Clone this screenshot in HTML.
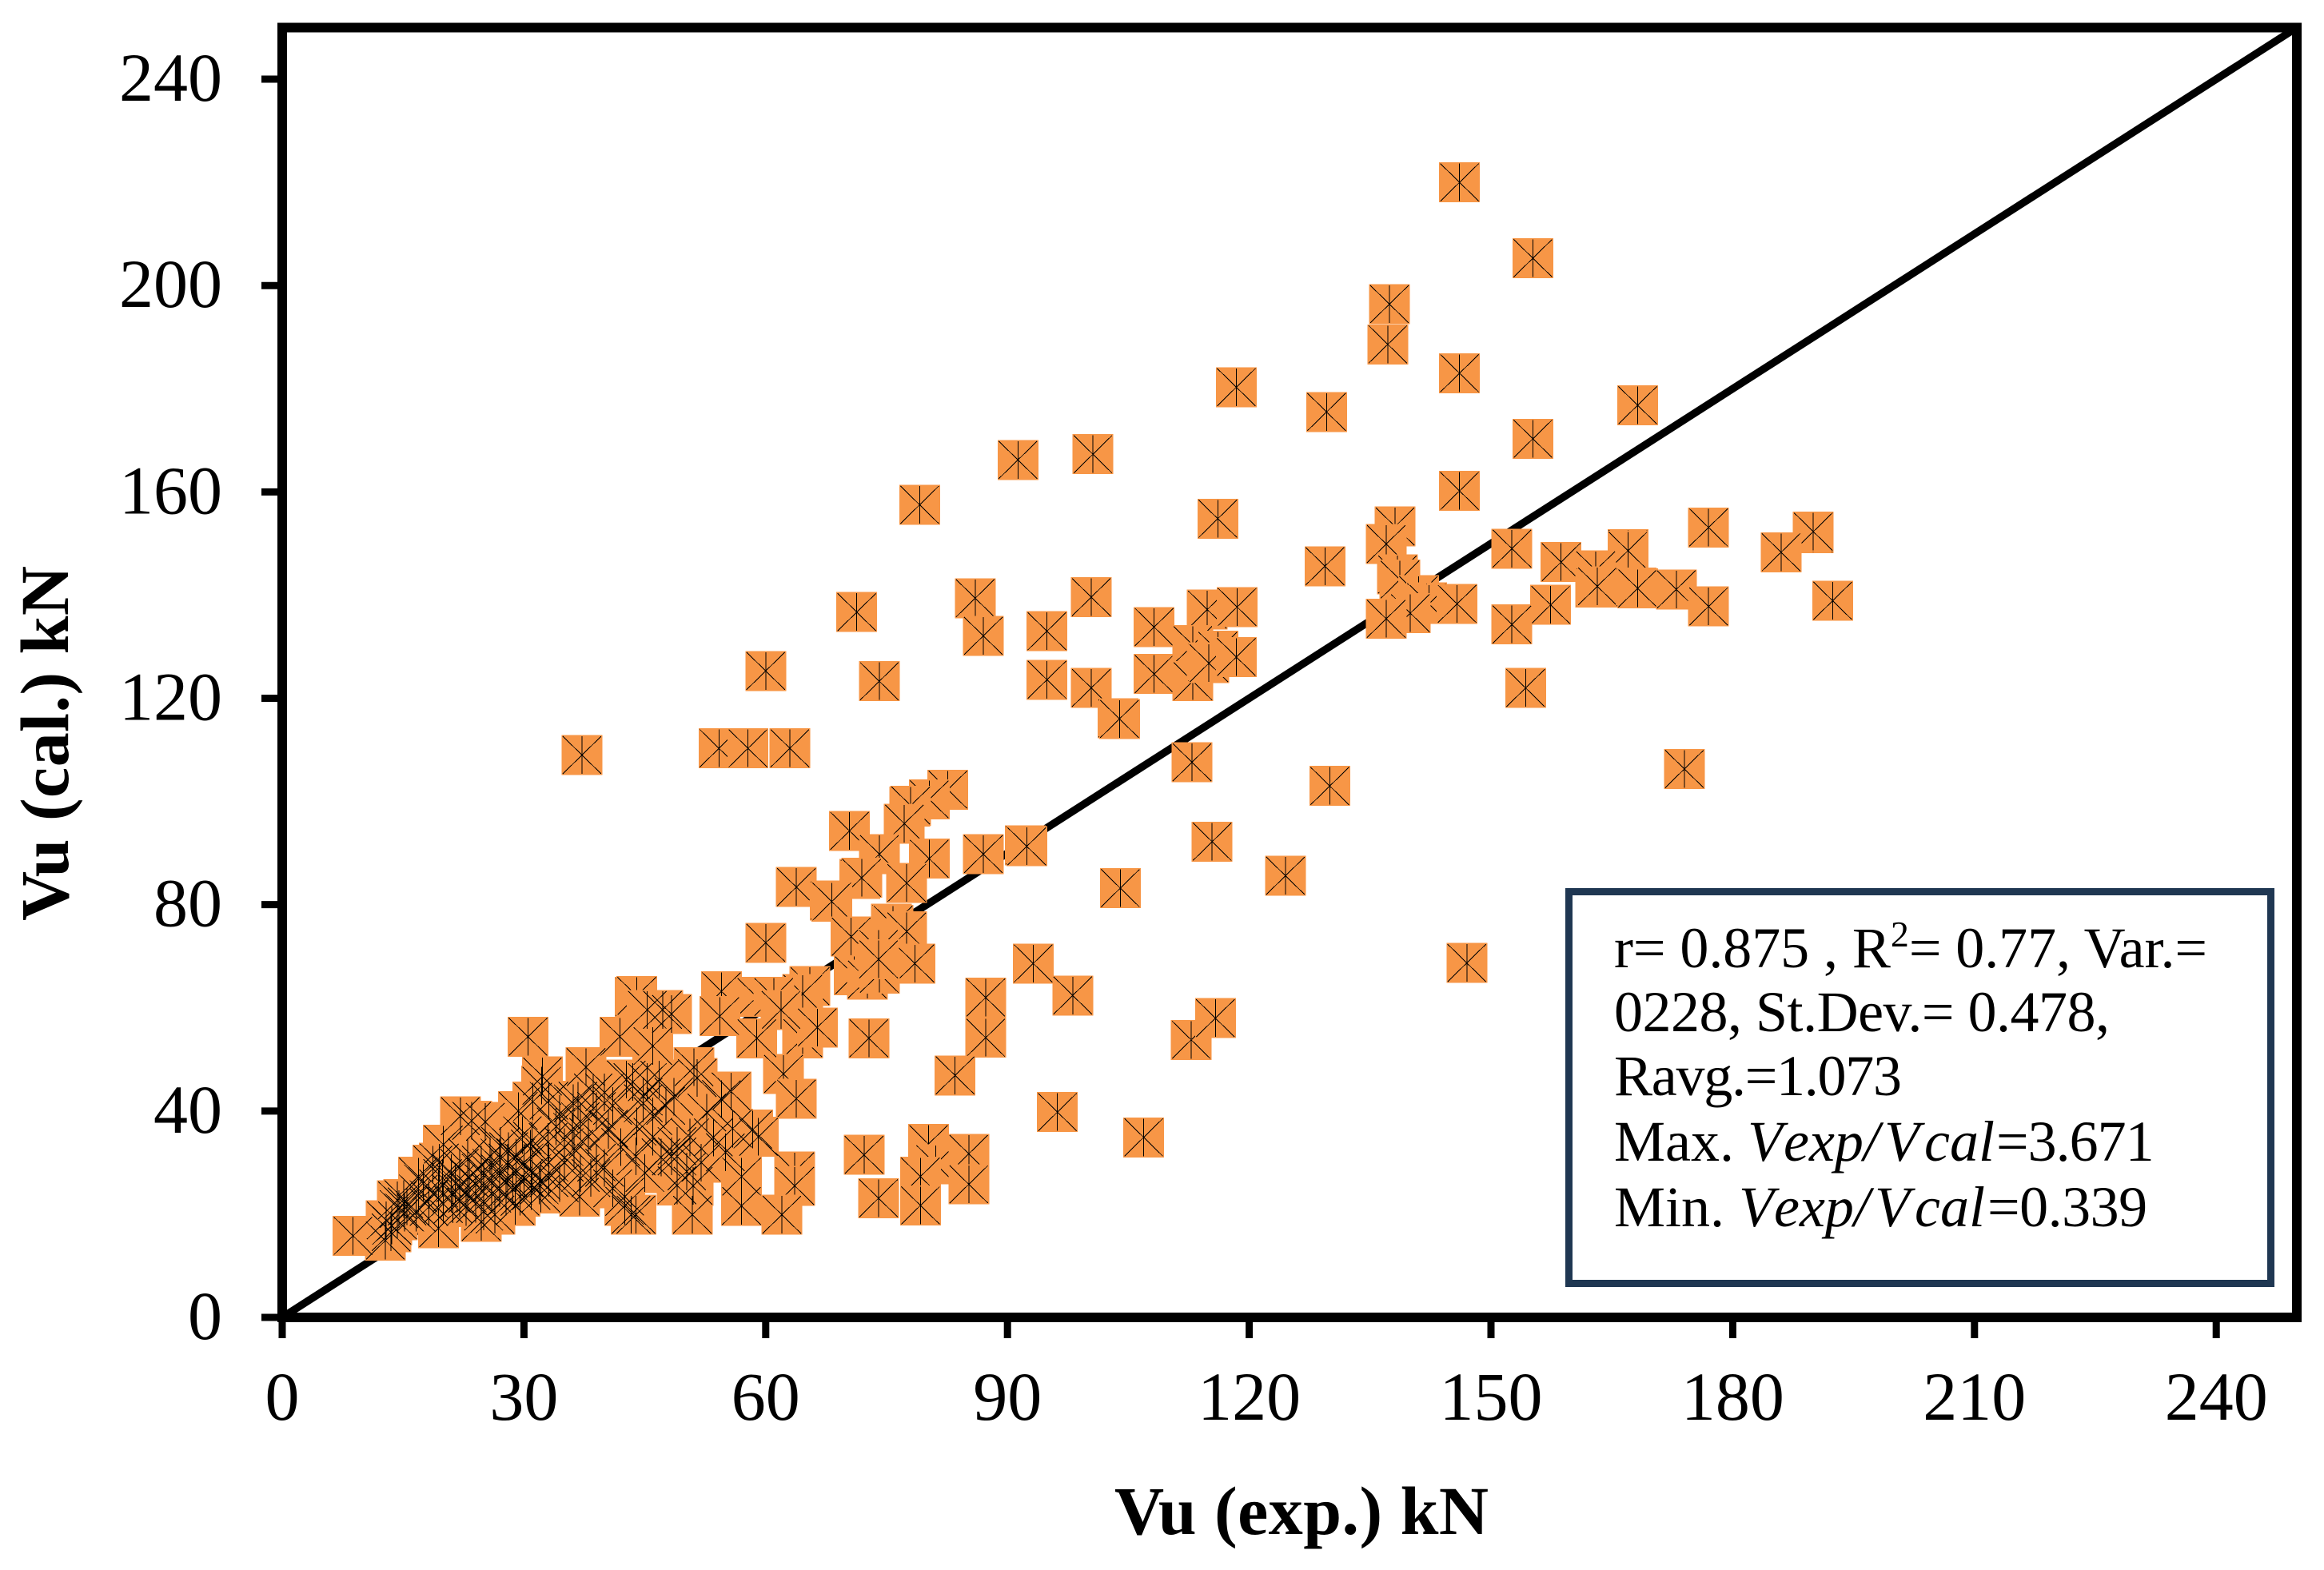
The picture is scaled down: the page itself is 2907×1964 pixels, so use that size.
<!DOCTYPE html>
<html lang="en">
<head>
<meta charset="utf-8">
<title>Vu (cal.) vs Vu (exp.)</title>
<style>
html,body{margin:0;padding:0;background:#fff;}
svg{display:block;font-family:"Liberation Serif","Times New Roman",serif;}
</style>
</head>
<body>
<svg id="chart" xmlns="http://www.w3.org/2000/svg" width="2907" height="1964" viewBox="0 0 2907 1964">
  <rect x="0" y="0" width="2907" height="1964" fill="#ffffff"/>
  <g id="diagonal"></g>
  <g id="points" shape-rendering="crispEdges"></g>
  <g id="point-lines" shape-rendering="crispEdges"></g>
  <rect x="353" y="34.5" width="2520" height="1613.5" fill="none" stroke="#000" stroke-width="12"/>
  <g id="x-axis"></g>
  <g id="y-axis"></g>
  <text x="1394" y="1919" font-size="86" font-weight="bold" textLength="468" lengthAdjust="spacing">Vu (exp.) kN</text>
  <text transform="translate(85,1152) rotate(-90)" x="0" y="0" font-size="86" font-weight="bold" textLength="444" lengthAdjust="spacing">Vu (cal.) kN</text>
  <g>
    <rect x="1962.5" y="1115.5" width="878" height="490" fill="#ffffff" stroke="#1F3752" stroke-width="9"/>
    <text x="2019" y="1210" font-size="72" textLength="742" lengthAdjust="spacing">r= 0.875 , R<tspan font-size="46" dy="-26">2</tspan><tspan dy="26">= 0.77, Var.=</tspan></text>
    <text x="2019" y="1290" font-size="72" textLength="620" lengthAdjust="spacing">0228, St.Dev.= 0.478,</text>
    <text x="2019" y="1370" font-size="72" textLength="360" lengthAdjust="spacing">Ravg.=1.073</text>
    <text y="1452" font-size="72"><tspan x="2019">Max.</tspan><tspan x="2186" font-style="italic">V</tspan><tspan x="2231" font-style="italic">exp/</tspan><tspan x="2357" font-style="italic">V</tspan><tspan x="2407" font-style="italic">cal</tspan><tspan x="2497" letter-spacing="-1">=3.671</tspan></text>
    <text y="1534" font-size="72"><tspan x="2019">Min.</tspan><tspan x="2175" font-style="italic">V</tspan><tspan x="2219" font-style="italic">exp/</tspan><tspan x="2345" font-style="italic">V</tspan><tspan x="2395" font-style="italic">cal</tspan><tspan x="2486" letter-spacing="-0.5">=0.339</tspan></text>
  </g>
</svg>
<script>
const xTickLabels = [0,30,60,90,120,150,180,210,240];
const yTickLabels = [0,40,80,120,160,200,240];
const equalityLine = [0,250];
const expValues = [
146.1,155.2,137.4,137.2,146.1,118.4,129.6,168.2,155.2,91.3,100.6,146.1,79.1,116.1,177,138.1,137,152.6,190,190,
186,167,167,158.7,129.4,163,163,163.2,168,168.2,173,192.4,177,157.4,152.6,154.3,174,138.4,138.7,141,
142,142.3,140,137,145.8,71.3,86,87,100.4,94.9,94.9,100.4,103.7,103.9,108.2,108.2,114.8,118.5,113,113,
116.1,114.8,115,118.4,74.1,112.9,60,37.2,54.2,57.8,63,82.6,80.3,77.9,78,77.2,70.4,74.1,80.3,87,
92.2,92.4,71.7,71.9,77.5,63.8,68,68.2,75.6,75.8,77.5,60,70.6,74,78.5,93.2,71,72.6,74.1,74,
54.5,65.5,64.6,58.9,61,98.1,87.3,87.3,83.5,96.2,106.9,112.8,115.8,80.2,81.1,85.2,85.2,79.2,79.2,74,
72.2,115.4,124.5,104,147,130,72.8,54.3,58.9,61.9,64.6,66.4,62.2,63.8,43.8,44,47.2,48.3,45.3,41.9,
46,37.7,32.3,30.5,51.1,51.5,55.7,54.5,52.7,58.4,55.9,59.1,53.5,50.6,63.6,63.6,57,57,62,50.9,
51,50.2,49,48.3,43.3,43.9,42.5,42.5,43.9,36.9,36.9,38.3,40.5,46,49,49,44.8,48.6,47.6,36.1,
36.7,38.6,40,42.7,45.3,46.8,33.1,34.4,31,32.1,33.1,34.4,8.8,8.8,12.8,12.9,14.3,15.1,16.9,16.9,
18.7,20,22.1,23.5,25.2,19.4,24.7,18.2,18.2,29.3,31.1,32.2,40.5,44.8,43.5,39,36.2,33.1,32.1,29.5,
27.8,28.6,26.4,28.9,30.9,31.9,30.8,29.8,28.1,27.1,25.8,24.7,24.7,23.2,21.5,19.9,19.4,16.9,15.2,14.3,
13.6,16.6,18.2,21.2,22.8,26,27,28,29,30,26,25,24,23,22,27,28,31,29,26,
27,30,24,25,20,21,22,23,21,19.5,17.5,15.5,14.5,13.5,33,34,35,36,37,38,
39,41,35,37,40,42,44,46,41,47,45,52,55
];
const calValues = [
220,205.3,196.4,188.6,183,180.3,175.5,176.8,170.3,166.2,167.3,160.2,157.5,154.8,153.1,153.3,149.9,149,152,152.3,
148.3,148.9,148.6,146.4,145.6,144.8,141.5,141.7,141.5,141.3,141.1,138.9,137.8,138.1,134.3,122,106.3,144,143,140,
138.6,138.3,136.5,135.4,138.3,136.7,139.4,132.1,139.6,133,123.6,122,116.1,116,133.8,124.7,137.2,137.7,130.3,123.3,
129.2,127,126.8,128,123.3,107.6,125.3,109,110.3,110.3,110.3,102.3,100.4,99,99.2,95.7,94.3,89.8,88.9,89.8,
91.5,91.3,85,85.2,84.2,83.4,80.8,80.6,76.3,76.1,74.8,72.6,73.8,71.4,68.6,68.6,66.3,65.5,66.6,69.4,
63.2,64.2,62.7,62.1,62.1,62.4,62,54.2,46.9,39.8,34.9,53.8,58,33.6,29.7,31.7,25.8,27.3,21.7,23.1,
31.5,92.2,85.6,83.2,68.7,103,54.1,58.4,54.1,59.6,54.1,56.2,47.2,42.4,62.1,62.3,59.6,58.8,59.6,54.4,
52.6,48.5,46.7,54.4,48.5,46.4,43.8,42.3,39.7,36.4,36.6,35,34.9,34.9,28.3,25.5,27.3,21.6,19.9,19.9,
25.5,28.3,31.2,31.2,19.9,19.9,23.4,21.6,31.2,23.4,23.4,27,36.6,35,33.2,25.6,42.8,42.8,41,41.5,
42,43.6,43.6,46.1,45.6,46.1,42,39.4,34.3,26.5,30,26,15.8,15.8,14.9,18.8,22.7,22.9,27.3,27.3,
29.6,33.5,39,38.1,37.9,17.3,18.5,22.9,22.9,40,41.8,44.9,36.3,41.5,45.6,30,32.7,27,24,23.4,
23.4,25.5,19.9,21.6,24.5,25.6,32.7,35.3,32.2,33.2,31.2,29.6,28,27,26,27,25,24,20.3,18.8,
17.8,20.3,21.4,21.9,21.4,26,28,30,28,30,24,26,24,24,23,25,27,28,31,29,
31,27,22,20.5,22,24,29,31,28,30,26,21.5,21,16.5,34,37,33,36,38,35,
40,41,30,28,29,33,37,39,25,31,28,30,32
];

const svgNS = 'http://www.w3.org/2000/svg';
const plotLeft = 353, plotWidth = 2520, plotBottom = 1648, plotHeight = 1613.5, axisMax = 250;
const denseLimit = 62;
function xScale(v){ return plotLeft + v / axisMax * plotWidth; }
function yScale(v){ return plotBottom - v / axisMax * plotHeight; }
function make(tag, attrs){
  const el = document.createElementNS(svgNS, tag);
  for (const k in attrs) el.setAttribute(k, attrs[k]);
  return el;
}

const diagonalGroup = document.getElementById('diagonal');
const diagonal = make('line', {x1:xScale(equalityLine[0]), y1:yScale(equalityLine[0]), x2:xScale(equalityLine[1]), y2:yScale(equalityLine[1]), stroke:'#000', 'stroke-width':9.5});


diagonalGroup.appendChild(diagonal);

const pointsGroup = document.getElementById('points');
const pointLinesGroup = document.getElementById('point-lines');
const halfW = 25.5, halfH = 25, inset = 1.5;
function addCross(parent, cx, cy){
  parent.appendChild(make('line', {x1:cx-halfW+inset, y1:cy-halfH+inset, x2:cx+halfW-inset, y2:cy+halfH-inset, stroke:'#000', 'stroke-width':1}));
  parent.appendChild(make('line', {x1:cx+halfW-inset, y1:cy-halfH+inset, x2:cx-halfW+inset, y2:cy+halfH-inset, stroke:'#000', 'stroke-width':1}));
  parent.appendChild(make('line', {x1:cx, y1:cy-halfH+inset, x2:cx, y2:cy+halfH-inset, stroke:'#000', 'stroke-width':1}));
}
expValues.forEach(function(xv, i){
  const cx = xScale(xv), cy = yScale(calValues[i]);
  const g = make('g', {});
  
  
  g.appendChild(make('rect', {x:cx-halfW, y:cy-halfH, width:halfW*2, height:halfH*2, fill:'#F79646'}));
  addCross(g, cx, cy);
  pointsGroup.appendChild(g);
  if (xv < denseLimit && calValues[i] < denseLimit) {
    const overlay = make('g', {});
    
    
    addCross(overlay, cx, cy);
    pointLinesGroup.appendChild(overlay);
  }
});

const xAxisGroup = document.getElementById('x-axis');
xTickLabels.forEach(function(v){
  const x = xScale(v);
  const tick = make('line', {x1:x, y1:plotBottom, x2:x, y2:1674, stroke:'#000', 'stroke-width':9});
  
  
  xAxisGroup.appendChild(tick);
  const label = make('text', {x:x, y:1776, 'font-size':86, 'text-anchor':'middle'});
  
  
  label.textContent = v;
  xAxisGroup.appendChild(label);
});

const yAxisGroup = document.getElementById('y-axis');
yTickLabels.forEach(function(v){
  const y = yScale(v);
  const tick = make('line', {x1:327, y1:y, x2:plotLeft, y2:y, stroke:'#000', 'stroke-width':9});
  
  
  yAxisGroup.appendChild(tick);
  const label = make('text', {x:278, y:y+27, 'font-size':86, 'text-anchor':'end'});
  
  
  label.textContent = v;
  yAxisGroup.appendChild(label);
});
</script>
</body>
</html>
